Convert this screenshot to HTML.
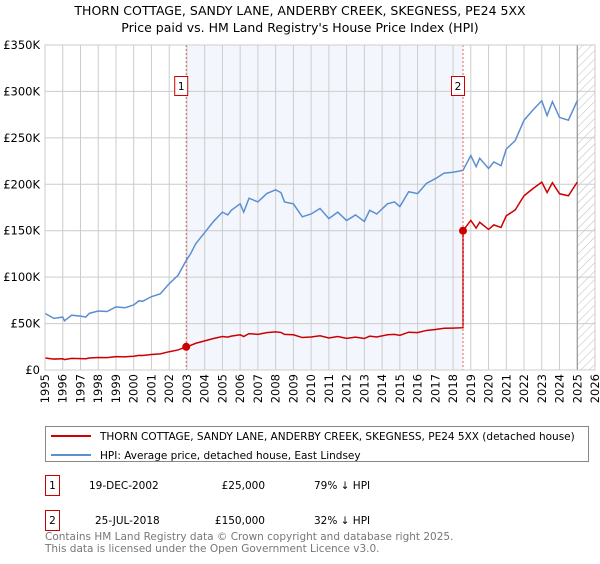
<!DOCTYPE html>
<html><head><meta charset="utf-8"><style>
body{margin:0;background:#fff;font-family:"DejaVu Sans","Liberation Sans",sans-serif;}
svg text{font-family:"DejaVu Sans","Liberation Sans",sans-serif;}
</style></head><body>
<svg id="chart" width="600" height="560" viewBox="0 0 600 560" xmlns="http://www.w3.org/2000/svg">
<defs><pattern id="hatch" width="6" height="6" patternUnits="userSpaceOnUse" patternTransform="rotate(45)"><line x1="0" y1="0" x2="0" y2="6" stroke="#bbb" stroke-width="1"/></pattern></defs>
<text x="300" y="15" text-anchor="middle" font-size="12.5">THORN COTTAGE, SANDY LANE, ANDERBY CREEK, SKEGNESS, PE24 5XX</text>
<text x="300" y="32" text-anchor="middle" font-size="12.5">Price paid vs. HM Land Registry's House Price Index (HPI)</text>
<g id="plot"></g>
<g>
<rect x="45.5" y="426.5" width="543" height="35" fill="#fff" stroke="#888"/>
<line x1="51" y1="436" x2="91" y2="436" stroke="#cc0000" stroke-width="2"/>
<text x="100" y="440" font-size="10.5">THORN COTTAGE, SANDY LANE, ANDERBY CREEK, SKEGNESS, PE24 5XX (detached house)</text>
<line x1="51" y1="455" x2="91" y2="455" stroke="#5b8fd1" stroke-width="2"/>
<text x="100" y="459" font-size="10.5">HPI: Average price, detached house, East Lindsey</text>
</g>
<g font-size="10.5">
<rect x="45.5" y="475.5" width="14" height="20" fill="#fff" stroke="#cc0000"/><text x="52.5" y="489" text-anchor="middle">1</text>
<text x="89" y="489">19-DEC-2002</text><text x="265" y="489" text-anchor="end">£25,000</text><text x="314" y="489">79% ↓ HPI</text>
<rect x="45.5" y="510.5" width="14" height="20" fill="#fff" stroke="#cc0000"/><text x="52.5" y="524" text-anchor="middle">2</text>
<text x="95" y="524">25-JUL-2018</text><text x="265" y="524" text-anchor="end">£150,000</text><text x="314" y="524">32% ↓ HPI</text>
</g>
<text x="45" y="540" font-size="10.5" fill="#777">Contains HM Land Registry data © Crown copyright and database right 2025.</text>
<text x="45" y="552" font-size="10.5" fill="#777">This data is licensed under the Open Government Licence v3.0.</text>
</svg>
<script>
const hpiYears=[1995,1995.5,1996,1996.1,1996.5,1997,1997.3,1997.5,1998,1998.5,1999,1999.5,2000,2000.3,2000.5,2001,2001.5,2002,2002.5,2002.96,2003.2,2003.5,2004,2004.5,2005,2005.3,2005.5,2006,2006.2,2006.5,2007,2007.5,2008,2008.3,2008.5,2009,2009.5,2010,2010.5,2011,2011.5,2012,2012.5,2013,2013.3,2013.7,2014.3,2014.7,2015,2015.5,2016,2016.5,2017,2017.5,2018,2018.56,2019,2019.3,2019.5,2020,2020.3,2020.7,2021,2021.5,2022,2022.5,2023,2023.3,2023.6,2024,2024.5,2025];
const hpiValues=[61,55.6,57,53,59,58,57,61,63.5,63,68,67,70,74.6,74,79,82,93,102,118,125,136,148,160,170,167,172,179,170,185,181,190,194,191,181,179,165,168,174,163,170,161,167,160,172,168,179,181,176,192,190,201,206,212,213,215,231,219,228,217,224,220,238,247,269,280,290,274,289,272,269,290];
const saleYears=[2002.96,2018.56];
const salePrices=[25,150];
const saleLabels=["1","2"];
const yTicks=[0,50,100,150,200,250,300,350];
const yTickLabels=["£0","£50K","£100K","£150K","£200K","£250K","£300K","£350K"];
const xTicks=[1995,1996,1997,1998,1999,2000,2001,2002,2003,2004,2005,2006,2007,2008,2009,2010,2011,2012,2013,2014,2015,2016,2017,2018,2019,2020,2021,2022,2023,2024,2025,2026];
const X0=45,X1=595,Y0=370,Y1=45;
const xs=y=>X0+(y-1995)/(2026-1995)*(X1-X0);
const ys=v=>Y0-v/350*(Y0-Y1);
const NS="http://www.w3.org/2000/svg";
const g=document.getElementById('plot');
function mk(t,a,p){const e=document.createElementNS(NS,t);for(const k in a)e.setAttribute(k,a[k]);(p||g).appendChild(e);return e;}
let e;
e=mk('rect',{x:xs(saleYears[0]),y:Y1,width:xs(saleYears[1])-xs(saleYears[0]),height:Y0-Y1,fill:'#eef3fc',opacity:0.7});


e=mk('rect',{x:xs(2025),y:Y1,width:X1-xs(2025),height:Y0-Y1,fill:'url(#hatch)'});


yTicks.forEach((t,i)=>{
 e=mk('line',{x1:X0,x2:X1,y1:ys(t),y2:ys(t),stroke:'#ccc','stroke-width':1});
 
 
 e=mk('text',{x:X0-5,y:ys(t)+4,'text-anchor':'end','font-size':'11.5'});e.textContent=yTickLabels[i];
 
 
});
xTicks.forEach(t=>{
 e=mk('line',{x1:xs(t),x2:xs(t),y1:Y1,y2:Y0,stroke:'#ccc','stroke-width':1});
 
 
 e=mk('text',{x:0,y:0,'font-size':'11.5',transform:`translate(${xs(t)+4},${Y0+4}) rotate(-90)`,'text-anchor':'end'});e.textContent=t;
 
 
});
e=mk('line',{x1:xs(2025),x2:xs(2025),y1:Y1,y2:Y0,stroke:'#888','stroke-width':1});


function hpiAt(y){for(let i=1;i<hpiYears.length;i++){if(y<=hpiYears[i]){const f=(y-hpiYears[i-1])/(hpiYears[i]-hpiYears[i-1]);return hpiValues[i-1]+f*(hpiValues[i]-hpiValues[i-1]);}}return hpiValues[hpiValues.length-1];}
// HPI line
e=mk('polyline',{points:hpiYears.map((y,i)=>xs(y)+','+ys(hpiValues[i])).join(' '),fill:'none',stroke:'#5b8fd1','stroke-width':1.5});


// property line: HPI-indexed from each sale
const r1=salePrices[0]/hpiAt(saleYears[0]), r2=salePrices[1]/hpiAt(saleYears[1]);
const pts=[];
hpiYears.forEach((y,i)=>{if(y<saleYears[1])pts.push(xs(y)+','+ys(hpiValues[i]*r1));});
pts.push(xs(saleYears[1])+','+ys(hpiAt(saleYears[1])*r1));
pts.push(xs(saleYears[1])+','+ys(salePrices[1]));
hpiYears.forEach((y,i)=>{if(y>saleYears[1])pts.push(xs(y)+','+ys(hpiValues[i]*r2));});
e=mk('polyline',{points:pts.join(' '),fill:'none',stroke:'#cc0000','stroke-width':1.5});


saleYears.forEach((y,i)=>{
 e=mk('line',{x1:xs(y),x2:xs(y),y1:Y1,y2:Y0,stroke:'#e06060','stroke-width':1,'stroke-dasharray':'2,2'});
 
 
 e=mk('circle',{cx:xs(y),cy:ys(salePrices[i]),r:4,fill:'#cc0000'});
 
 
 e=mk('rect',{x:xs(y)-11.5,y:76.5,width:13,height:19,fill:'#fff',stroke:'#cc0000'});
 
 
 e=mk('text',{x:xs(y)-5,y:90,'text-anchor':'middle','font-size':'10.5'});e.textContent=saleLabels[i];
 
 
});
e=mk('rect',{x:X0,y:Y1,width:X1-X0,height:Y0-Y1,fill:'none',stroke:'#ccc'});


</script>
</body></html>
